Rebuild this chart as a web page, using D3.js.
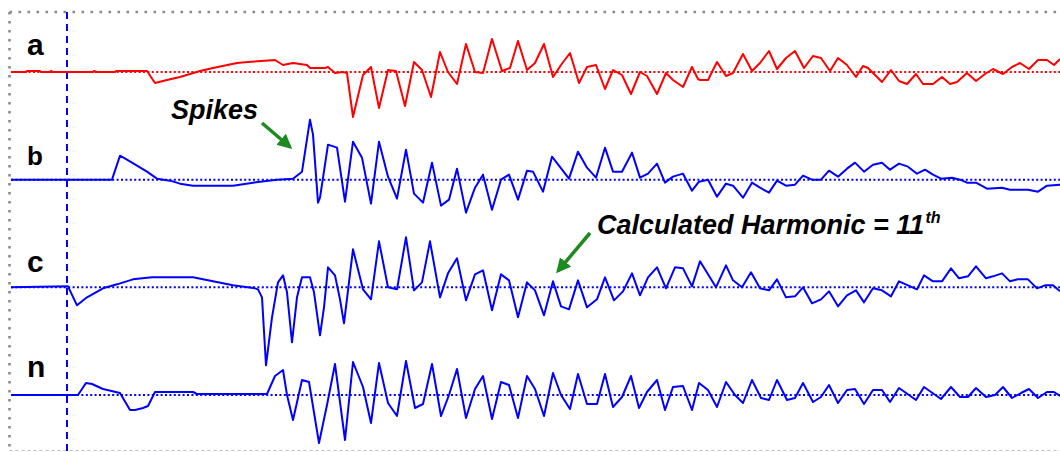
<!DOCTYPE html>
<html><head><meta charset="utf-8">
<script src="https://cdn.jsdelivr.net/npm/d3@7"></script>
<style>
html,body{margin:0;padding:0;background:#fff;}
svg{display:block;}
text{font-family:"Liberation Sans",Arial,sans-serif;}
</style></head>
<body><svg id="chart" width="1060" height="452"></svg>
<script>
// channels and sample data: [sample index, amplitude]
const channels = ["a", "b", "c", "n"];
const seriesA = [[11,0],[26,0],[27,1],[40,1],[41,0],[50,0],[51,1],[53,0],[93,0],[94,1],[97,0],[115,0],[116,1],[147,1],[155,-11],[167,-8],[180,-5],[200,1],[213,4],[237,9],[248,10],[275,12],[283,7],[293,9],[307,7],[310,4],[325,4],[328,5],[335,-1],[343,0],[347,-1],[353,-45],[363,-3],[371,5],[379,-36],[388,2],[396,1],[405,-34],[414,10],[422,2],[431,-25],[440,20],[448,0],[457,-12],[466,28],[475,0],[483,-1],[492,33],[502,1],[510,4],[518,31],[527,2],[535,9],[544,28],[553,-5],[561,7],[570,19],[579,-11],[587,5],[596,7],[605,-17],[613,2],[622,-3],[631,-22],[640,0],[647,-4],[657,-22],[666,-1],[673,-8],[683,-15],[692,5],[698,-7],[700,-8],[708,-8],[717,10],[726,-4],[733,-1],[743,18],[752,1],[760,9],[769,21],[777,3],[786,14],[795,21],[804,4],[813,16],[821,14],[830,1],[838,14],[847,7],[856,-5],[863,6],[868,4],[882,-10],[891,2],[899,-9],[907,-12],[916,-2],[923,-12],[933,-12],[942,-5],[950,-12],[957,-10],[967,-1],[976,-9],[985,-2],[993,3],[1003,-2],[1012,5],[1020,9],[1029,3],[1038,12],[1047,12],[1054,7],[1060,13]];
const seriesB = [[11,0],[112,0],[120,24],[127,20],[147,8],[157,1],[170,-1],[180,-4],[193,-6],[233,-6],[253,-3],[277,0],[293,1],[302,8],[310,60],[313,45],[318,-23],[320,-18],[328,35],[337,32],[345,-22],[353,38],[362,22],[371,-24],[379,38],[388,3],[397,-19],[406,30],[414,-14],[423,-23],[432,17],[441,-26],[449,-20],[457,11],[466,-33],[475,-8],[483,5],[492,-30],[501,0],[509,5],[518,-20],[527,9],[533,8],[543,-12],[552,23],[569,1],[578,28],[587,12],[596,2],[605,32],[613,8],[622,8],[632,27],[640,2],[648,6],[657,16],[665,-3],[673,3],[683,6],[692,-11],[699,-2],[708,0],[717,-17],[726,-4],[733,-6],[743,-18],[752,-3],[760,-8],[769,-13],[777,-1],[786,-6],[795,-5],[803,4],[812,0],[821,0],[829,9],[838,3],[847,11],[855,17],[864,8],[873,15],[882,17],[890,10],[899,16],[908,13],[917,6],[925,10],[933,5],[941,1],[952,2],[960,0],[967,-3],[976,-3],[987,-9],[1002,-8],[1010,-10],[1028,-10],[1038,-12],[1047,-6],[1060,-5]];
const seriesC = [[11,0],[68,1],[77,-18],[87,-10],[103,-1],[117,3],[133,8],[152,10],[193,10],[213,6],[233,2],[255,-1],[258,-2],[262,-10],[266,-78],[272,-30],[278,5],[283,12],[287,-5],[292,-55],[297,-10],[302,10],[310,10],[314,-5],[320,-48],[324,-20],[328,20],[335,12],[340,-12],[344,-36],[353,38],[363,-2],[371,-12],[379,46],[388,0],[397,-2],[406,50],[414,-3],[422,5],[430,46],[440,-10],[448,14],[457,29],[466,-13],[475,13],[483,17],[492,-23],[501,13],[509,7],[518,-30],[527,5],[535,-3],[544,-28],[553,6],[561,-19],[569,-22],[578,7],[587,-20],[597,-12],[605,10],[614,-13],[623,-4],[632,14],[640,-8],[648,10],[657,20],[666,-1],[675,20],[683,19],[692,1],[700,26],[716,0],[726,22],[733,7],[742,0],[751,15],[760,-1],[769,-3],[777,8],[786,-10],[795,-9],[803,0],[812,-16],[821,-12],[829,-4],[838,-19],[847,-8],[856,-3],[864,-15],[873,-1],[882,-3],[891,-9],[899,6],[908,2],[917,-2],[924,12],[933,6],[942,6],[951,19],[959,9],[968,11],[976,21],[986,9],[993,11],[1002,14],[1010,6],[1018,8],[1028,8],[1037,-1],[1045,2],[1053,2],[1060,-4]];
const seriesN = [[11,0],[78,0],[86,12],[92,11],[103,6],[120,2],[130,-15],[135,-15],[143,-13],[148,-11],[155,3],[193,3],[197,1],[267,1],[275,19],[283,25],[287,0],[293,-25],[302,15],[309,13],[319,-48],[327,-10],[335,31],[345,-45],[353,33],[363,8],[371,-28],[379,32],[388,-8],[397,-21],[406,34],[415,-13],[423,-9],[432,31],[441,-21],[449,0],[457,26],[466,-23],[475,6],[483,19],[492,-24],[501,13],[509,10],[518,-23],[527,19],[535,6],[544,-21],[553,22],[561,0],[570,-14],[578,21],[587,-9],[597,-9],[605,21],[613,-12],[622,-2],[631,19],[639,-13],[647,3],[657,15],[665,-15],[673,8],[683,9],[692,-15],[699,12],[708,5],[717,-12],[726,13],[735,0],[743,-8],[752,15],[761,-3],[769,-5],[777,15],[787,-5],[795,-3],[803,12],[813,-7],[821,-2],[829,10],[838,-8],[847,5],[855,6],[864,-9],[873,5],[882,5],[890,-7],[899,7],[916,-5],[924,8],[941,-4],[951,8],[960,-2],[968,-2],[976,7],[986,-2],[995,0],[1003,8],[1012,-3],[1021,2],[1029,6],[1038,-3],[1047,3],[1054,3],[1060,-1]];
const triggerSample = 67;
const annotations = ["Spikes", "Calculated Harmonic = 11", "th"];

const seriesList = [seriesA, seriesB, seriesC, seriesN];
const colors = ["#ff0000", "#0000ff", "#0000ff", "#0000ff"];

const svg = d3.select("#chart");

const x = d3.scaleLinear().domain([11, 1060]).range([11, 1060]);
const lane = d3.scalePoint().domain(channels).range([72, 395]);
const amp = d3.scaleLinear().domain([-100, 100]).range([100, -100]);

// frame
svg.append("line").attr("x1", 9.5).attr("x2", 1060).attr("y1", 12).attr("y2", 12)
  .attr("stroke", "#8a8a8a").attr("stroke-width", 2.6).attr("stroke-dasharray", "2.6,6.4");
svg.append("line").attr("x1", 9.5).attr("x2", 9.5).attr("y1", 12).attr("y2", 452)
  .attr("stroke", "#8a8a8a").attr("stroke-width", 2.6).attr("stroke-dasharray", "2.6,6.4");
svg.append("line").attr("x1", 9.5).attr("x2", 1060).attr("y1", 450.5).attr("y2", 450.5)
  .attr("stroke", "#bdbdbd").attr("stroke-width", 1.2).attr("stroke-dasharray", "3,3");

// trigger line
svg.append("line").attr("x1", x(triggerSample)).attr("x2", x(triggerSample))
  .attr("y1", 12).attr("y2", 452)
  .attr("stroke", "#0000ff").attr("stroke-width", 2).attr("stroke-dasharray", "7,5");

const line = d3.line().x(d => x(d[0])).y(d => amp(d[1])).curve(d3.curveLinear);

channels.forEach((ch, i) => {
  const g = svg.append("g").attr("transform", `translate(0,${lane(ch)})`);
  g.append("line").attr("x1", x(11)).attr("x2", x(1060)).attr("y1", amp(0)).attr("y2", amp(0))
    .attr("stroke", colors[i]).attr("stroke-width", 2).attr("stroke-dasharray", "2,2.4");
  g.append("path").datum(seriesList[i]).attr("d", line)
    .attr("fill", "none").attr("stroke", colors[i]).attr("stroke-width", 2)
    .attr("stroke-linejoin", "round");
  g.append("text").attr("x", 27).attr("y", [-17, -15, -15, -18][i])
    .attr("font-size", [30, 26, 30, 30][i]).attr("font-weight", "bold").attr("fill", "#000")
    .text(ch);
});

// annotations
const green = "#1f8a1f";
svg.append("defs").append("marker").attr("id", "ah").attr("viewBox", "0 0 10 10")
  .attr("refX", 8).attr("refY", 5).attr("markerWidth", 4.2).attr("markerHeight", 4.2)
  .attr("markerUnits", "strokeWidth").attr("orient", "auto")
  .append("path").attr("d", "M0,0L10,5L0,10z").attr("fill", green);

svg.append("text").attr("x", 171).attr("y", 119).attr("font-size", 27)
  .attr("font-weight", "bold").attr("font-style", "italic").text(annotations[0]);
svg.append("line").attr("x1", 262).attr("y1", 123).attr("x2", 290).attr("y2", 147)
  .attr("stroke", green).attr("stroke-width", 3.5).attr("marker-end", "url(#ah)");

const t2 = svg.append("text").attr("x", 597).attr("y", 234).attr("font-size", 27)
  .attr("font-weight", "bold").attr("font-style", "italic");
t2.append("tspan").text(annotations[1]);
t2.append("tspan").attr("font-size", 16).attr("dy", -11).attr("dx", 1).text(annotations[2]);
svg.append("line").attr("x1", 590).attr("y1", 233).attr("x2", 558).attr("y2", 271)
  .attr("stroke", green).attr("stroke-width", 3.5).attr("marker-end", "url(#ah)");
</script></body></html>
